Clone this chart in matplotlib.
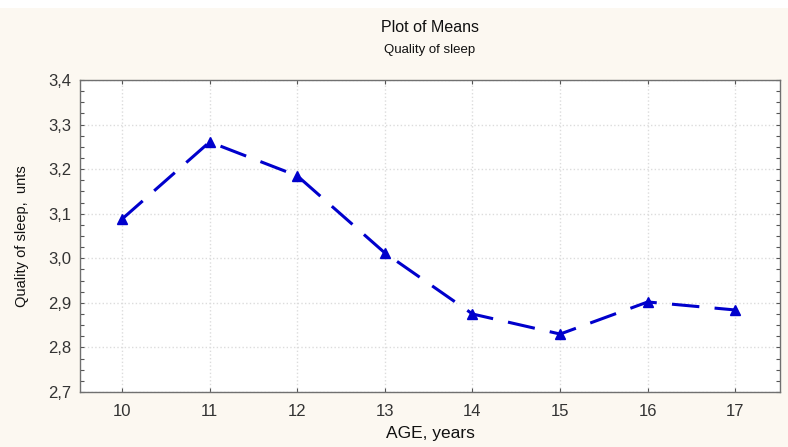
import matplotlib
matplotlib.use("Agg")
import matplotlib.pyplot as plt
from matplotlib.ticker import MultipleLocator, FuncFormatter
from matplotlib.patches import Rectangle

ages = [10, 11, 12, 13, 14, 15, 16, 17]
quality = [3.088, 3.261, 3.185, 3.012, 2.875, 2.830, 2.902, 2.884]
y_ticks = [2.7, 2.8, 2.9, 3.0, 3.1, 3.2, 3.3, 3.4]

plt.rcParams['font.family'] = ['Liberation Sans', 'DejaVu Sans']

bg = '#fcf8f1'
fig = plt.figure(figsize=(7.88, 4.47), dpi=100, facecolor=bg)
fig.patches.append(Rectangle((0, 1 - 8/447), 1, 8/447, transform=fig.transFigure,
                             facecolor='white', edgecolor='none', zorder=0))

ax = fig.add_axes([80/788, 1 - 392/447, 700/788, 312/447])
ax.set_facecolor('white')

ax.plot(ages, quality, color='#0000cc', linestyle=(0, (9, 5)), linewidth=2.2,
        marker='^', markersize=7.5, markeredgecolor='#0000cc', markerfacecolor='#0000cc')

ax.set_xlim(9.52, 17.51)
ax.set_ylim(2.7, 3.4)
ax.set_xticks(ages)
ax.set_yticks(y_ticks)
ax.yaxis.set_minor_locator(MultipleLocator(0.025))
ax.yaxis.set_major_formatter(FuncFormatter(lambda v, p: f"{v:.1f}".replace('.', ',')))

ax.grid(True, which='major', color='#dcdcdc', linestyle=':', linewidth=1.0)
ax.tick_params(axis='both', which='both', direction='in', colors='#555555',
               labelcolor='#333333', labelsize=12, length=3, width=0.8)
ax.tick_params(axis='y', which='both', left=True, right=True)
ax.tick_params(axis='y', which='minor', length=3)
ax.tick_params(axis='x', which='both', top=True, bottom=True, pad=9)
ax.tick_params(axis='y', pad=6)
for s in ax.spines.values():
    s.set_color('#707070')
    s.set_linewidth(1.0)

ax.set_xlabel('AGE, years', fontsize=12.5, color='#111111', labelpad=5)
ax.set_ylabel('Quality of sleep,  unts', fontsize=10.5, color='#111111', labelpad=14)

fig.text(430/788, 1 - 28/447, 'Plot of Means', ha='center', va='center', fontsize=11.5, color='#111111')
fig.text(430/788, 1 - 50/447, 'Quality of sleep', ha='center', va='center', fontsize=9.5, color='#111111')

fig.savefig('out.png', dpi=100, facecolor=bg)
